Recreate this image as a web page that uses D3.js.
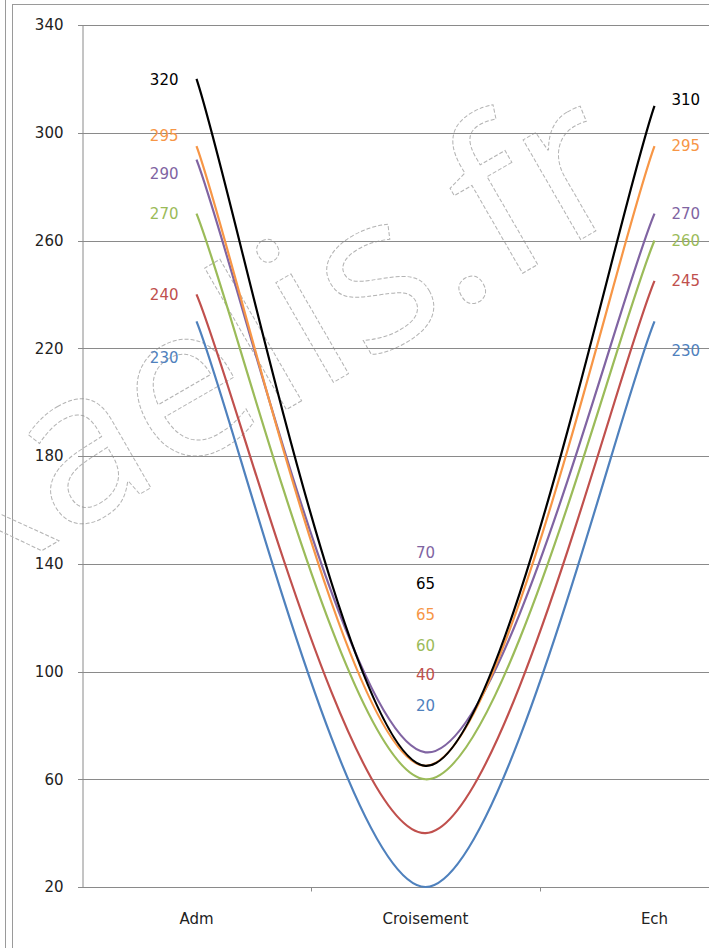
<!DOCTYPE html>
<html>
<head>
<meta charset="utf-8">
<script src="https://cdn.jsdelivr.net/npm/d3@7"></script>
<style>
  body { margin: 0; background: #fff; }
  svg { display: block; font-family: "DejaVu Sans", sans-serif; }
</style>
</head>
<body>
<svg width="709" height="948"></svg>
<script>
// chart values
const categories = ['Adm', 'Croisement', 'Ech'];
const yTicks = [20, 60, 100, 140, 180, 220, 260, 300, 340];

const seriesBlue   = [230, 20, 230];
const seriesRed    = [240, 40, 245];
const seriesGreen  = [270, 60, 260];
const seriesPurple = [290, 70, 270];
const seriesOrange = [295, 65, 295];
const seriesBlack  = [320, 65, 310];

// drawing order = excel series order, black ends on top
const series = [
  { values: seriesBlue,   color: '#4f81bd', nudge: [36, -181, 29] },
  { values: seriesRed,    color: '#c0504d', nudge: [0, -158, 0] },
  { values: seriesGreen,  color: '#9bbb59', nudge: [0, -134, 0] },
  { values: seriesPurple, color: '#8064a2', nudge: [14, -200, 0] },
  { values: seriesOrange, color: '#f79646', nudge: [-10, -151, 0] },
  { values: seriesBlack,  color: '#000000', nudge: [1, -182, -6] }
];

// excel-like "smoothed line": catmull-rom, end points doubled
const excelSmooth = context => {
  let pts;
  return {
    areaStart() {}, areaEnd() {},
    lineStart() { pts = []; },
    point(px, py) { pts.push([+px, +py]); },
    lineEnd() {
      const n = pts.length;
      if (!n) return;
      context.moveTo(pts[0][0], pts[0][1]);
      for (let i = 0; i < n - 1; i++) {
        const p0 = pts[Math.max(i - 1, 0)], p1 = pts[i],
              p2 = pts[i + 1], p3 = pts[Math.min(i + 2, n - 1)];
        context.bezierCurveTo(
          p1[0] + (p2[0] - p0[0]) / 6, p1[1] + (p2[1] - p0[1]) / 6,
          p2[0] - (p3[0] - p1[0]) / 6, p2[1] - (p3[1] - p1[1]) / 6,
          p2[0], p2[1]);
      }
    }
  };
};

const svg = d3.select('svg');

const margin = { left: 82, top: 25 };
const plotH = 862;
const bandW = 229;

const x = d3.scaleBand()
  .domain(categories)
  .range([margin.left, margin.left + bandW * categories.length]);
const xc = d => x(d) + x.bandwidth() / 2;

const y = d3.scaleLinear()
  .domain([20, 340])
  .range([margin.top + plotH, margin.top]);

// outer frame of the excel sheet
svg.append('line').attr('x1', 5.5).attr('x2', 5.5).attr('y1', 0).attr('y2', 948)
  .attr('stroke', '#9a9a9a');
svg.append('line').attr('x1', 12.5).attr('x2', 12.5).attr('y1', 4).attr('y2', 948)
  .attr('stroke', '#9a9a9a');
svg.append('line').attr('x1', 12).attr('x2', 709).attr('y1', 4.5).attr('y2', 4.5)
  .attr('stroke', '#9a9a9a');

// watermark
svg.append('text')
  .attr('transform', 'translate(-35,595) rotate(-30)')
  .attr('font-family', '"Open Sans", sans-serif')
  .attr('font-size', 215)
  .attr('fill', 'none')
  .attr('stroke', '#b4b4b4')
  .attr('stroke-width', 1)
  .attr('stroke-dasharray', '4,2')
  .text('xaelis.fr');

// gridlines
svg.append('g')
  .selectAll('line')
  .data(yTicks)
  .join('line')
  .attr('x1', margin.left - 4)
  .attr('x2', 709)
  .attr('y1', d => Math.round(y(d)) + 0.5)
  .attr('y2', d => Math.round(y(d)) + 0.5)
  .attr('stroke', '#8a8a8a');

// y axis
const yAxis = svg.append('g')
  .attr('transform', `translate(${margin.left + 0.5},0)`)
  .call(d3.axisLeft(y).tickValues(yTicks).tickSize(4).tickPadding(15));
yAxis.select('.domain').attr('stroke', '#8a8a8a');
yAxis.selectAll('.tick line').remove();
yAxis.selectAll('text')
  .attr('font-size', 15)
  .attr('font-family', '"DejaVu Sans", sans-serif')
  .attr('fill', '#222');

// x axis
const xAxis = svg.append('g')
  .attr('transform', `translate(0,${Math.round(y(20)) + 0.5})`)
  .call(d3.axisBottom(x).tickSize(0).tickPadding(26));
xAxis.select('.domain').remove();
xAxis.selectAll('text')
  .attr('font-size', 15)
  .attr('font-family', '"DejaVu Sans", sans-serif')
  .attr('fill', '#222');
xAxis.selectAll('.sep')
  .data(categories.slice(1))
  .join('line')
  .attr('class', 'sep')
  .attr('x1', d => Math.round(x(d)) + 0.5)
  .attr('x2', d => Math.round(x(d)) + 0.5)
  .attr('y1', 0)
  .attr('y2', 4)
  .attr('stroke', '#8a8a8a');

// smoothed lines
const line = d3.line()
  .x((d, i) => xc(categories[i]))
  .y(d => y(d))
  .curve(excelSmooth);

svg.append('g')
  .selectAll('path')
  .data(series)
  .join('path')
  .attr('d', s => line(s.values))
  .attr('fill', 'none')
  .attr('stroke', s => s.color)
  .attr('stroke-width', 2.2);

// data labels
const anchors = ['end', 'middle', 'start'];
const dx = [-18, 0, 17];
const labels = svg.append('g').attr('font-size', 15);
series.forEach(s => {
  labels.selectAll(null)
    .data(s.values)
    .join('text')
    .attr('x', (d, i) => xc(categories[i]) + dx[i])
    .attr('y', (d, i) => y(d) + s.nudge[i])
    .attr('dy', '0.35em')
    .attr('text-anchor', (d, i) => anchors[i])
    .attr('fill', s.color)
    .text(d => d);
});
</script>
</body>
</html>
